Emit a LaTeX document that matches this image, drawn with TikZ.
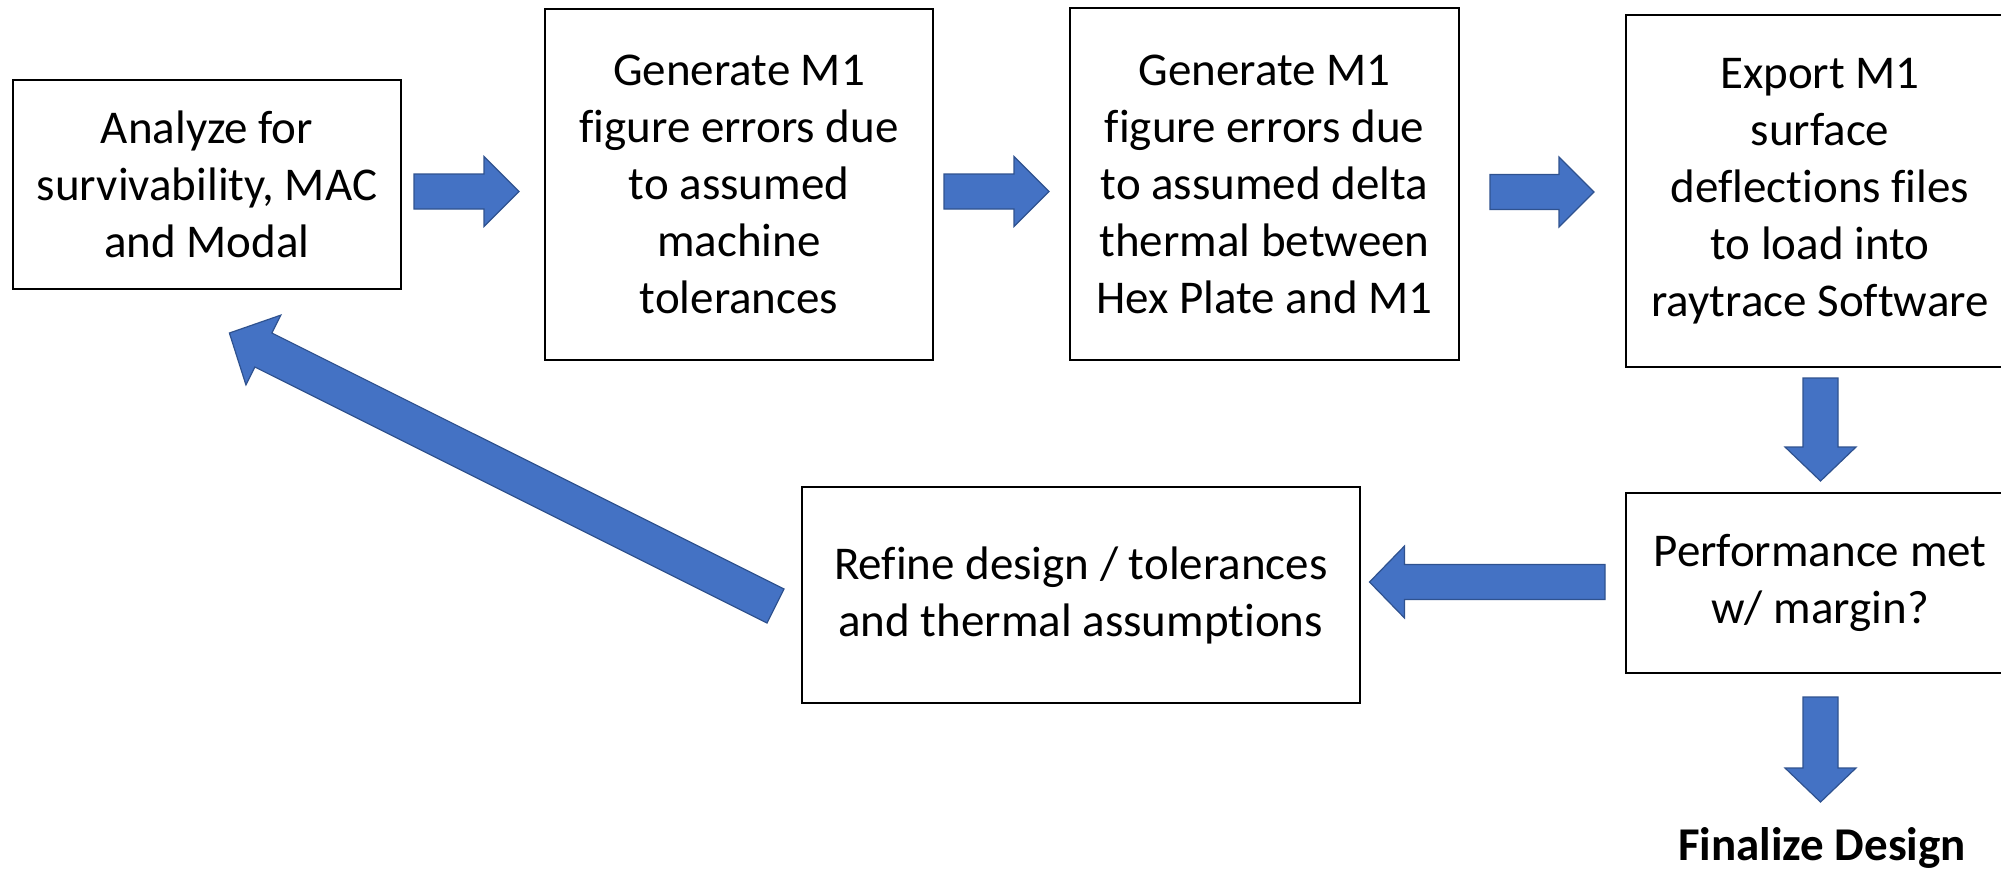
\documentclass[tikz,border=0pt]{standalone}
\usepackage{fontspec}
\setmainfont{Carlito}[Ligatures=NoCommon]
\usetikzlibrary{calc}
\definecolor{arrfill}{HTML}{4472C4}
\definecolor{arrline}{HTML}{2F528F}
\tikzset{
  box/.style={draw=black, line width=1pt, fill=white, align=center, inner sep=0pt,
    font=\fontsize{23.5}{28.5}\selectfont},
  barrow/.style={fill=arrfill, draw=arrline, line width=0.6pt, line join=miter}
}
% #1 tail, #2 tip, #3 body half width, #4 head half width, #5 head length
\newcommand\blockarrow[5]{%
  \coordinate (ba-h) at ($(#2)!#5!(#1)$);
  \draw[barrow] ($(#1)!#3!90:(#2)$) -- ($(ba-h)!#3!90:(#2)$) -- ($(ba-h)!#4!90:(#2)$)
    -- (#2) -- ($(ba-h)!#4!-90:(#2)$) -- ($(ba-h)!#3!-90:(#2)$) -- ($(#1)!#3!-90:(#2)$) -- cycle;
}
\begin{document}
\begin{tikzpicture}[x=0.5pt, y=-0.5pt]
\useasboundingbox (0,0) rectangle (2001,869);
\node[box, minimum width=194pt, minimum height=104.5pt] (A) at (207,184.5)
  {Analyze for\\survivability, MAC\\and Modal};
\node[box, minimum width=194pt, minimum height=175.5pt] (B) at (739,184.5)
  {Generate M1\\figure errors due\\to assumed\\machine\\tolerances};
\node[box, minimum width=194.5pt, minimum height=176pt] (C) at (1264.5,184)
  {Generate M1\\figure errors due\\to assumed delta\\thermal between\\Hex Plate and M1};
\node[box, minimum width=194pt, minimum height=176pt] (D) at (1820,191)
  {Export M1\\surface\\deflections files\\to load into\\raytrace Software};
\node[box, minimum width=194pt, minimum height=90pt] (E) at (1820,583)
  {Performance met\\w/ margin?};
\node[box, minimum width=278.75pt, minimum height=108pt] (F) at (1080.75,595)
  {Refine design / tolerances\\and thermal assumptions};
\node[anchor=base, inner sep=0pt, font=\fontsize{23.5}{28.5}\selectfont\bfseries] (G) at (1822,860)
  {Finalize Design};

\coordinate (a1s) at ($(A.east)+(12,7)$);
\coordinate (a1e) at ($(B.west)+(-25,7)$);
\coordinate (a2s) at ($(B.east)+(10,7)$);
\coordinate (a2e) at ($(C.west)+(-20,7.5)$);
\coordinate (a3s) at ($(C.east)+(30,8)$);
\coordinate (a3e) at ($(D.west)+(-31,1)$);
\coordinate (d1s) at ($(D.south)+(0.5,10)$);
\coordinate (d1e) at ($(E.north)+(0.5,-11)$);
\coordinate (l1s) at ($(E.west)+(-20,-1)$);
\coordinate (l1e) at ($(F.east)+(9,-13)$);
\coordinate (d2s) at ($(E.south)+(0.5,23)$);
\coordinate (d2e) at ($(E.south)+(0.5,128)$);
\coordinate (gs) at ($(F.west)+(-25.5,11)$);
\coordinate (ge) at ($(A.south)+(22.4,43)$);

\blockarrow{a1s}{a1e}{8.75pt}{17.5pt}{17.5pt}
\blockarrow{a2s}{a2e}{8.75pt}{17.5pt}{17.5pt}
\blockarrow{a3s}{a3e}{8.75pt}{17.5pt}{17.5pt}
\blockarrow{d1s}{d1e}{8.75pt}{17.75pt}{17pt}
\blockarrow{l1s}{l1e}{8.75pt}{18pt}{17.5pt}
\blockarrow{d2s}{d2e}{8.75pt}{17.75pt}{17pt}
\blockarrow{gs}{ge}{9.5pt}{19.5pt}{19pt}
\end{tikzpicture}
\end{document}
